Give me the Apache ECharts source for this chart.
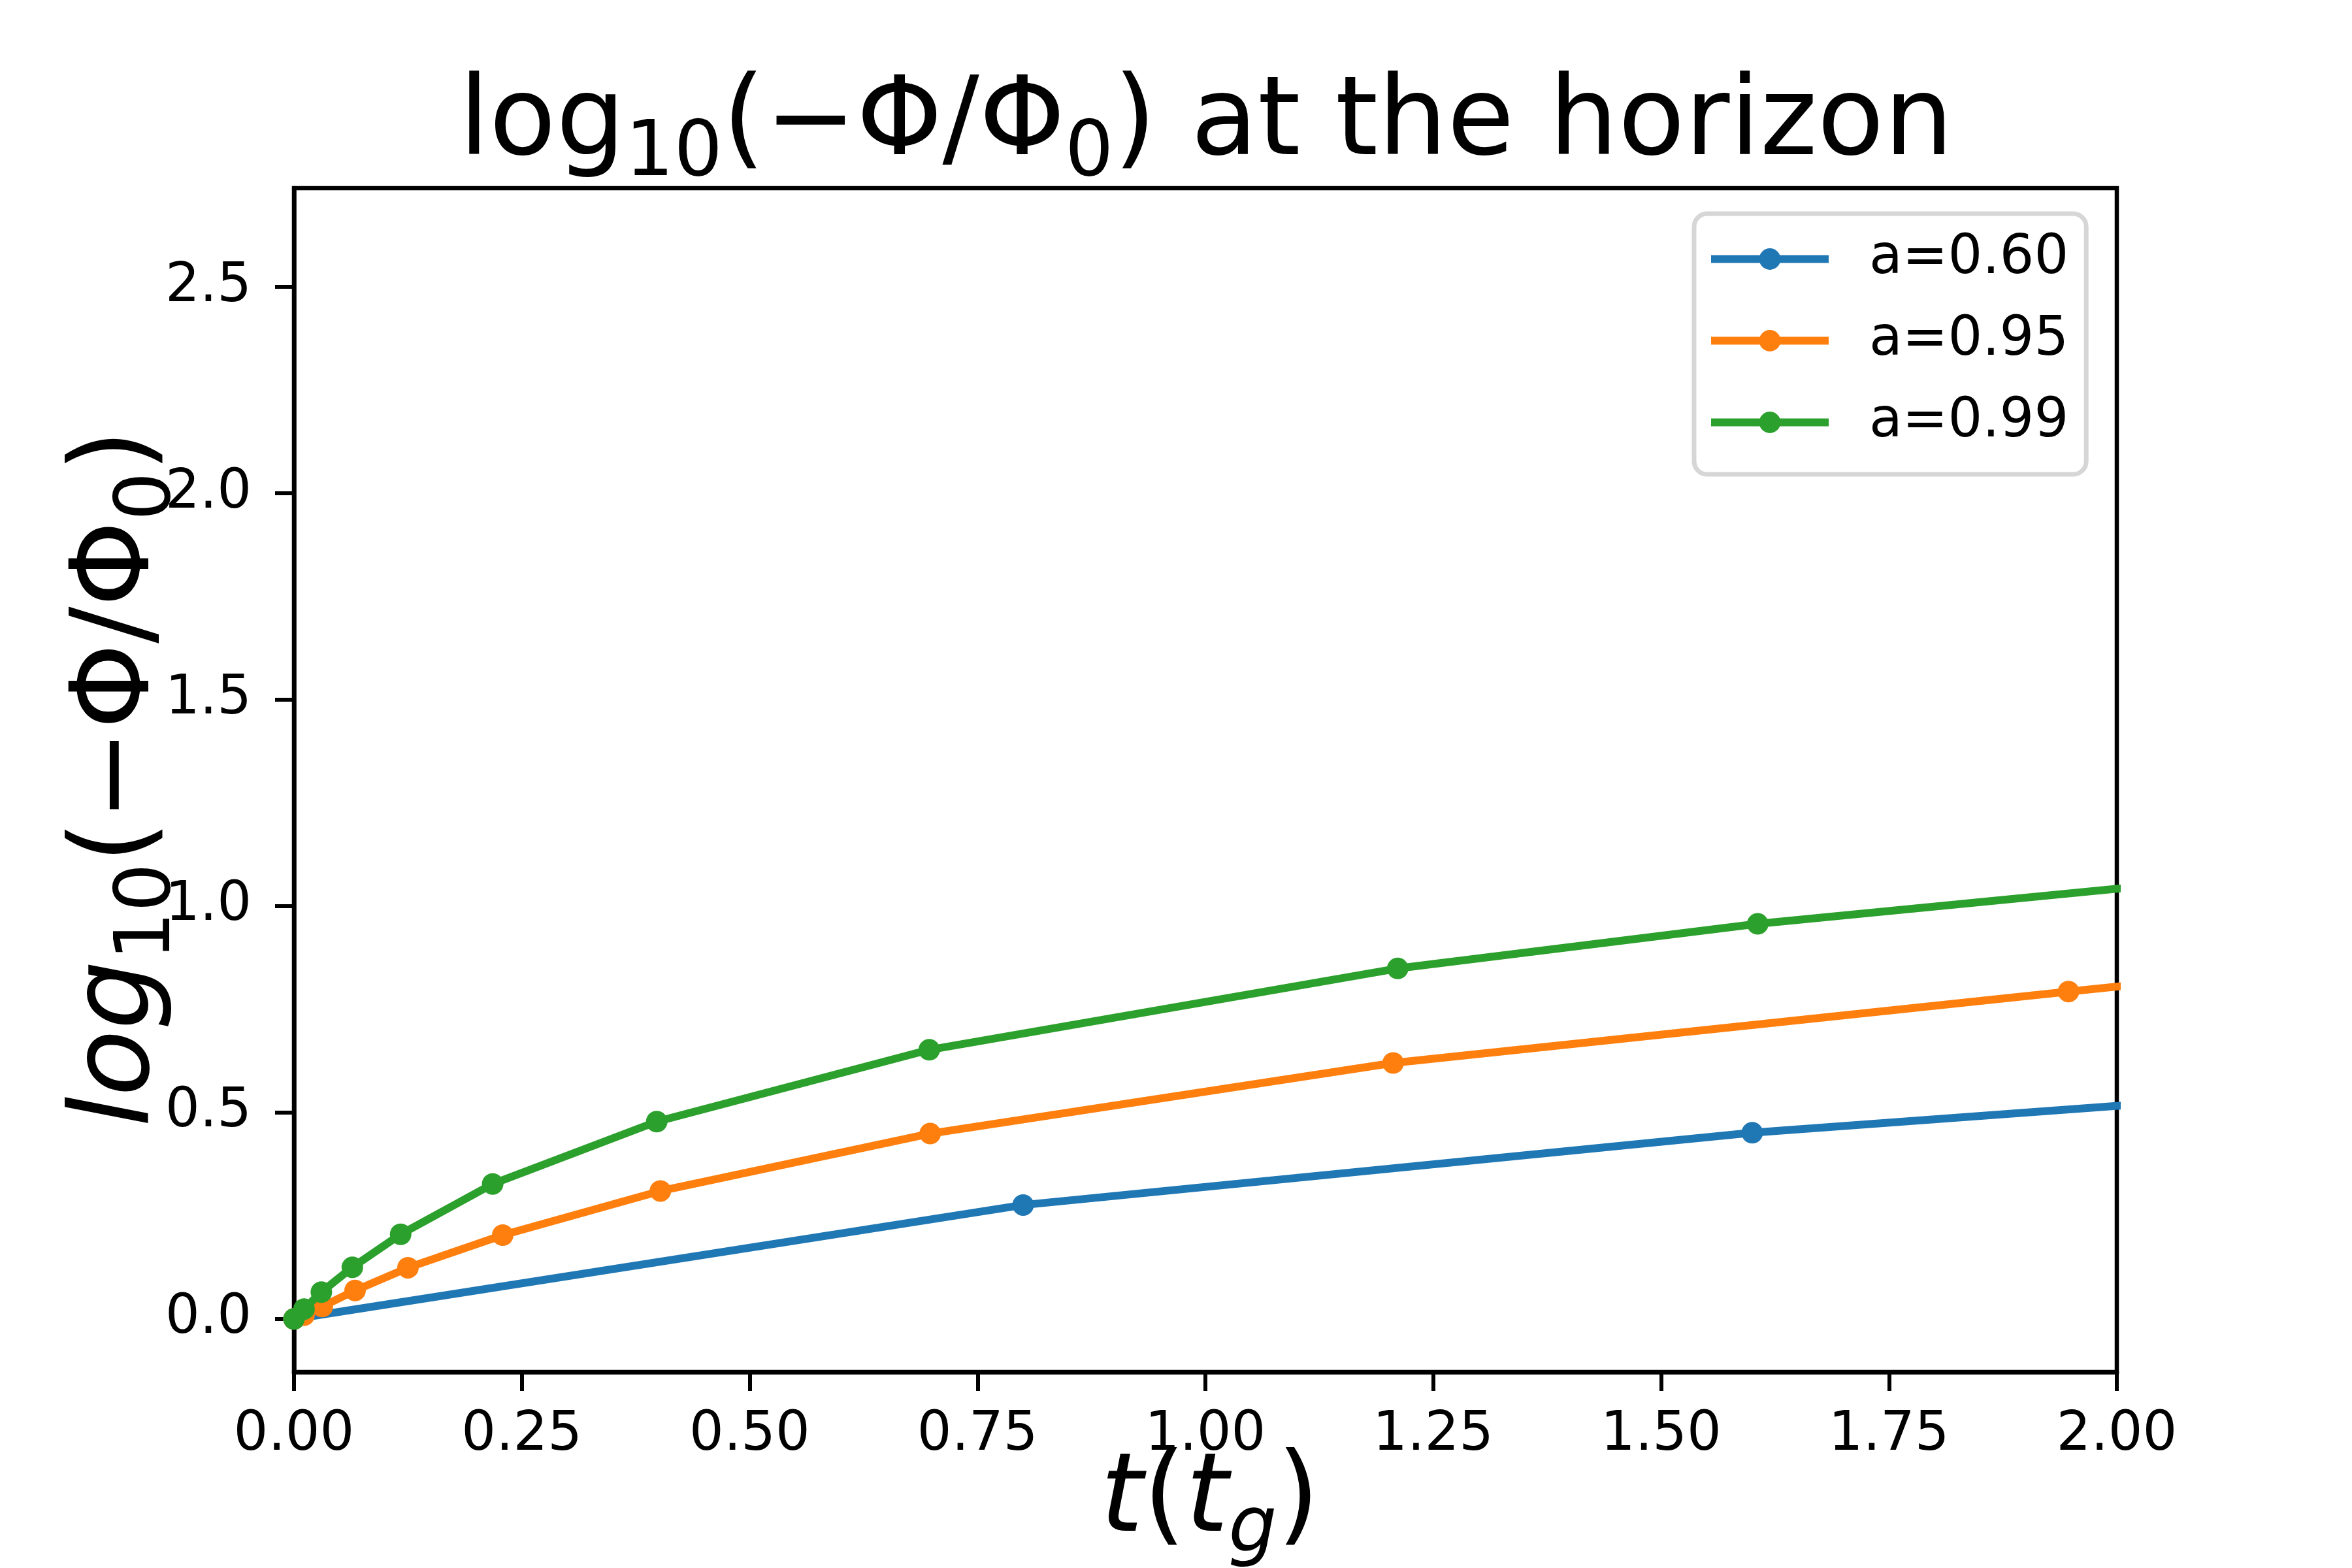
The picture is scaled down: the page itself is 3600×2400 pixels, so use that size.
<!DOCTYPE html>
<html>
<head>
<meta charset="utf-8">
<script src="https://cdn.jsdelivr.net/npm/echarts@6/dist/echarts.min.js"></script>
<style>html,body{margin:0;padding:0;background:#fff;}#c{width:3600px;height:2400px;}</style>
</head>
<body>
<div id="c"></div>
<script>
// ---- data ----
const seriesNames = ['a=0.60', 'a=0.95', 'a=0.99'];
const t060 = [0, 0.80, 1.60, 2.40];
const y060 = [0.0, 0.276, 0.451, 0.581];
const t095 = [0, 0.011, 0.031, 0.067, 0.125, 0.229, 0.402, 0.698, 1.206, 1.947, 3.10];
const y095 = [0.0, 0.009, 0.030, 0.069, 0.124, 0.203, 0.310, 0.449, 0.620, 0.793, 1.054];
const t099 = [0, 0.011, 0.030, 0.064, 0.117, 0.218, 0.398, 0.697, 1.211, 1.606, 2.20];
const y099 = [0.0, 0.024, 0.065, 0.125, 0.205, 0.327, 0.478, 0.652, 0.849, 0.957, 1.085];
const xTicks = [0, 0.25, 0.5, 0.75, 1.0, 1.25, 1.5, 1.75, 2.0];
const yTicks = [0, 0.5, 1.0, 1.5, 2.0, 2.5];
const colors = ['#1f77b4', '#ff7f0e', '#2ca02c'];

const FONT = 'DejaVu Sans';
function pairs(ts, ys) { return ts.map((t, i) => [t, ys[i]]); }
const allT = [t060, t095, t099];
const allY = [y060, y095, y099];

const chart = echarts.init(document.getElementById('c'), null, {renderer: 'canvas'});

const mainSz = 167, subSz = 117, LH = 220;
const richBase = {
  n: {fontFamily: FONT, fontSize: mainSz, lineHeight: LH, fill: '#000', verticalAlign: 'middle'},
  i: {fontFamily: FONT, fontSize: mainSz, fontStyle: 'italic', lineHeight: LH, fill: '#000', verticalAlign: 'middle'},
  s: {fontFamily: FONT, fontSize: subSz, lineHeight: LH, fill: '#000', verticalAlign: 'middle', padding: [90, 0, 0, 0]},
  si: {fontFamily: FONT, fontSize: subSz, fontStyle: 'italic', lineHeight: LH, fill: '#000', verticalAlign: 'middle', padding: [88, 0, 0, 0]}
};

const option = {
  animation: false,
  backgroundColor: '#ffffff',
  grid: {
    left: 450, top: 288, right: 360, bottom: 300,
    show: true, borderColor: '#000', borderWidth: 6.5, backgroundColor: 'transparent',
    containLabel: false
  },
  xAxis: {
    type: 'value', min: 0, max: 2,
    axisLine: {show: true, onZero: false, lineStyle: {color: '#000', width: 6.5}},
    axisTick: {show: true, inside: false, length: 29, lineStyle: {color: '#000', width: 6}, customValues: xTicks},
    axisLabel: {show: true, margin: 56, fontFamily: FONT, fontSize: 83, color: '#000',
      customValues: xTicks, formatter: v => v.toFixed(2)},
    splitLine: {show: false}
  },
  yAxis: {
    type: 'value', min: -0.1285, max: 2.739,
    axisLine: {show: true, onZero: false, lineStyle: {color: '#000', width: 6.5}},
    axisTick: {show: true, inside: false, length: 29, lineStyle: {color: '#000', width: 6}, customValues: yTicks},
    axisLabel: {show: true, margin: 65, fontFamily: FONT, fontSize: 83, color: '#000',
      customValues: yTicks, formatter: v => v.toFixed(1)},
    splitLine: {show: false}
  },
  legend: {
    orient: 'vertical', left: 2593, top: 327,
    itemWidth: 180, itemHeight: 41, itemGap: 42,
    padding: [28, 27, 38, 20],
    backgroundColor: 'rgba(255,255,255,0.8)',
    borderColor: 'rgba(204,204,204,0.8)', borderWidth: 7, borderRadius: 20,
    textStyle: {fontFamily: FONT, fontSize: 83, color: '#000', padding: [0, 0, 0, 57]},
    lineStyle: {width: 12},
    itemStyle: {borderWidth: 0},
    data: seriesNames
  },
  series: seriesNames.map((name, k) => ({
    name: name,
    type: 'line',
    data: pairs(allT[k], allY[k]),
    symbol: 'circle',
    symbolSize: 33,
    showSymbol: true,
    showAllSymbol: true,
    clip: true,
    color: colors[k],
    itemStyle: {color: colors[k], borderWidth: 0},
    lineStyle: {color: colors[k], width: 12},
    emphasis: {disabled: true},
    z: 2 + k
  })),
  graphic: [
    {
      type: 'text', x: 1846, y: 193,
      style: {
        text: '{n|log}{s|10}{n|(−Φ/Φ}{s|0}{n|) at the horizon}',
        rich: richBase, align: 'center', verticalAlign: 'middle'
      }
    },
    {
      type: 'text', x: 1852, y: 2300,
      style: {
        text: '{i|t}{n|(}{i|t}{si|g}{n|)}',
        rich: richBase, align: 'center', verticalAlign: 'middle'
      }
    },
    {
      type: 'text', x: 184, y: 1191, rotation: Math.PI / 2,
      style: {
        text: '{i|log}{s|10}{n|(−Φ/Φ}{s|0}{n|)}',
        rich: richBase, align: 'center', verticalAlign: 'middle'
      }
    }
  ]
};
chart.setOption(option);
</script>
</body>
</html>
